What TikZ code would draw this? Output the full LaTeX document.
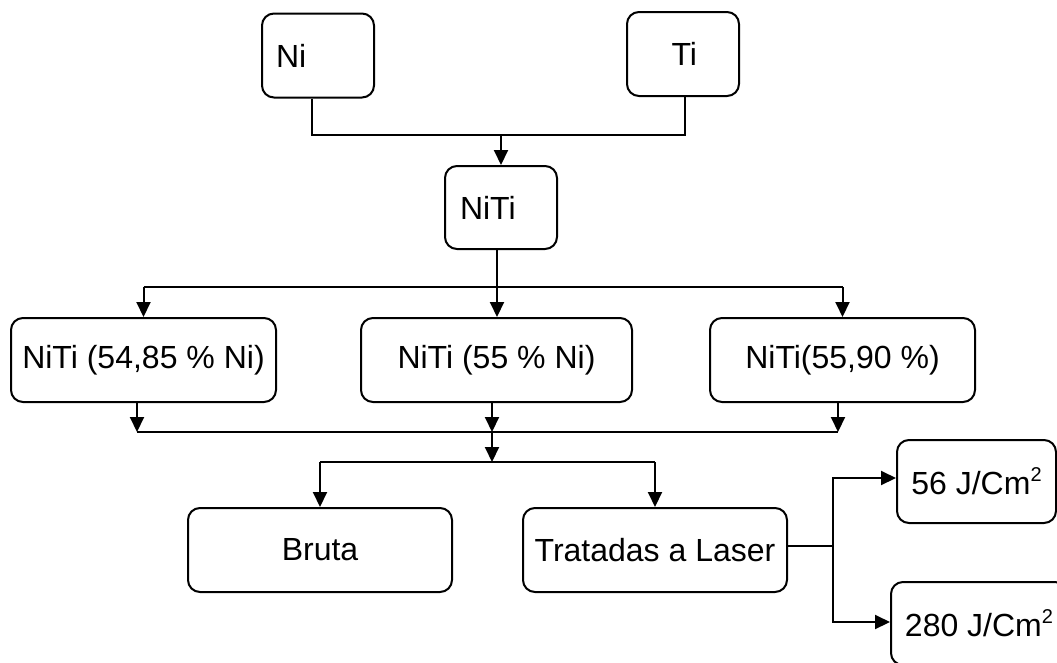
\documentclass[tikz,border=0pt]{standalone}
\usepackage{fontspec}
\setmainfont{Liberation Sans}
\usetikzlibrary{arrows.meta,calc}
\newcommand{\sqsup}{\raisebox{13pt}{\fontsize{20}{20}\selectfont 2}}
\begin{document}
\begin{tikzpicture}[x=1pt,y=-1pt,
  box/.style={draw,line width=2pt,rounded corners=12pt,minimum height=84pt,inner sep=0pt,font=\fontsize{32}{38}\selectfont},
  link/.style={line width=2pt},
  arr/.style={line width=2pt,-{Triangle[length=15pt,width=14pt]}}]
\useasboundingbox (0,0) rectangle (1057,662);
\clip (0,0) rectangle (1057,662);
% nodes
\node[box,minimum width=112pt,text width=84pt,align=left] (ni) at (318,55.5) {Ni};
\node[box,minimum width=112pt,text width=28pt,align=right] (ti) at (683,54) {Ti};
\node[box,minimum width=112pt,minimum height=83pt,text width=82pt,align=left] (niti) at (501,207.5) {NiTi};
\node[box,minimum width=265pt] (b1) at (143.5,360) {NiTi (54,85 \% Ni)};
\node[box,minimum width=271pt] (b2) at (496.5,360) {NiTi (55 \% Ni)};
\node[box,minimum width=265pt] (b3) at (842.5,360) {NiTi(55,90 \%)};
\node[box,minimum width=264pt] (bruta) at (320,550) {Bruta};
\node[box,minimum width=264pt] (laser) at (655,550) {Tratadas a Laser};
\node[box,minimum width=159pt,minimum height=83pt] (j56) at (976.5,481.5) {56 J/Cm\sqsup};
\node[box,minimum width=176pt,minimum height=83pt] (j280) at (979,623.5) {280 J/Cm\sqsup};
% junctions
\coordinate (j1) at (501,135);
\coordinate (j2) at (497,287);
\coordinate (j3) at (492,432);
\coordinate (j4) at (492,462);
\coordinate (j5) at (833,546);
\coordinate (j6) at (833,478);
\coordinate (j7) at (833,622);
% connectors
\draw[link] ([xshift=-6pt]ni.south) |- (j1) -| ([xshift=2pt]ti.south);
\draw[arr] (j1) -- (niti.north);
\draw[link] ([xshift=-4pt]niti.south) -- (j2);
\draw[link] (b1.north |- j2) -- (b3.north |- j2);
\draw[arr] (b1.north |- j2) -- (b1.north);
\draw[arr] (j2) -- (j2 |- b2.north);
\draw[arr] (b3.north |- j2) -- (b3.north);
\draw[arr] ([xshift=-6.5pt]b1.south) -- ([xshift=-6.5pt]b1.south |- j3);
\draw[arr] ([xshift=-4.5pt]b2.south) -- (j3);
\draw[arr] ([xshift=-4.5pt]b3.south) -- ([xshift=-4.5pt]b3.south |- j3);
\draw[link] ([xshift=-6.5pt]b1.south |- j3) -- ([xshift=-4.5pt]b3.south |- j3);
\draw[arr] (j3) -- (j4);
\draw[link] (bruta.north |- j4) -- (laser.north |- j4);
\draw[arr] (bruta.north |- j4) -- (bruta.north);
\draw[arr] (laser.north |- j4) -- (laser.north);
\draw[link] (laser.east |- j5) -- (j5);
\draw[arr] (j5) |- (j6 -| j56.west);
\draw[arr] (j5) |- (j7 -| j280.west);
\end{tikzpicture}
\end{document}
